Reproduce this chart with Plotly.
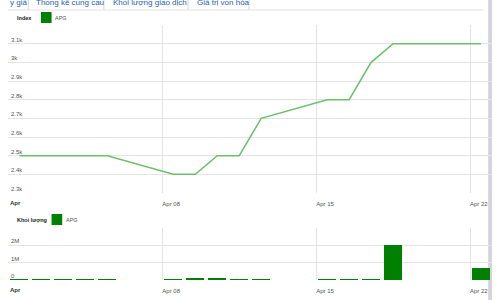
import plotly.graph_objects as go

dates = ["2013-04-01", "2013-04-02", "2013-04-03", "2013-04-04", "2013-04-05",
         "2013-04-08", "2013-04-09", "2013-04-10", "2013-04-11", "2013-04-12",
         "2013-04-15", "2013-04-16", "2013-04-17", "2013-04-18", "2013-04-22"]
index_values = [2500, 2500, 2500, 2500, 2500,
                2400, 2400, 2500, 2500, 2700,
                2800, 2800, 3000, 3100, 3100]
volume_values = [20000, 20000, 20000, 20000, 20000,
                 20000, 60000, 60000, 20000, 20000,
                 20000, 20000, 20000, 2000000, 720000]
index_ticks = [2300, 2400, 2500, 2600, 2700, 2800, 2900, 3000, 3100, 3200]
index_tick_text = ["2.3k", "2.4k", "2.5k", "2.6k", "2.7k", "2.8k", "2.9k", "3k", "3.1k", ""]
volume_ticks = [0, 1000000, 2000000, 3000000]
volume_tick_text = ["0", "1M", "2M", ""]
x_ticks = ["2013-04-01", "2013-04-08", "2013-04-15", "2013-04-22"]
x_tick_text = ["", "Apr 08", "Apr 15", "Apr 22"]
month_label = "<b>Apr</b>"
tabs = ["y giá", "Thống kê cung cầu", "Khối lượng giao dịch", "Giá trị vốn hóa"]

xs = [d + " 12:00" for d in dates]

W, H = 500, 300
def py(px):
    return 1 - px / H

def px_x(x):
    return x / W

fig = go.Figure()
fig.add_trace(go.Scatter(x=xs, y=index_values, mode="lines",
                         line=dict(color="rgb(108,192,108)", width=1.5),
                         xaxis="x", yaxis="y", showlegend=False, hoverinfo="skip"))
fig.add_trace(go.Bar(x=xs, y=volume_values, marker=dict(color="#008000", line=dict(width=0)),
                     width=0.82 * 86400000, xaxis="x2", yaxis="y2", showlegend=False,
                     hoverinfo="skip"))

font_tick = dict(family="Liberation Sans", size=6, color="#555555")
xrange = ["2013-03-31 23:30", "2013-04-23 00:00"]
xcommon = dict(range=xrange, type="date", tickvals=x_ticks, ticktext=x_tick_text,
               showgrid=True, gridcolor="#e4e4e4", gridwidth=1, zeroline=False,
               showline=False, ticks="", tickfont=font_tick,
               ticklabelposition="outside right", ticklabeloverflow="allow",
               ticklabelstandoff=6, fixedrange=True)

fig.update_layout(
    width=W, height=H,
    margin=dict(l=8, r=8, t=0, b=0),
    paper_bgcolor="white", plot_bgcolor="white",
    bargap=0,
    xaxis=dict(domain=[0, 1], anchor="y", **xcommon),
    xaxis2=dict(domain=[0, 1], anchor="y2", **xcommon),
    yaxis=dict(domain=[py(193), py(25)], range=[2300, 3200], tickvals=index_ticks,
               ticktext=index_tick_text, showgrid=True, gridcolor="#e4e4e4",
               zeroline=False, showline=False, ticks="", tickfont=font_tick,
               ticklabelposition="inside top", anchor="x"),
    yaxis2=dict(domain=[py(280), py(228)], range=[0, 3000000], tickvals=volume_ticks,
                ticktext=volume_tick_text, showgrid=True, gridcolor="#e4e4e4",
                zeroline=False, showline=False, ticks="", tickfont=font_tick,
                ticklabelposition="inside top", anchor="x2"),
)

shapes = []
annotations = []

# Month labels at the left edge of each x axis
for xr, ypx in [("x", 203), ("x2", 290)]:
    annotations.append(dict(x=x_ticks[0], y=py(ypx), xref=xr, yref="paper", xanchor="left",
                            yanchor="middle", text=month_label, showarrow=False,
                            font=dict(family="Liberation Sans", size=6, color="#333333")))

legend_font_b = dict(family="Liberation Sans", size=5.5, color="#222222")
legend_font = dict(family="Liberation Sans", size=5.5, color="#555555")

# Legend for index chart
annotations.append(dict(x=px_x(7), y=py(18), xref="paper", yref="paper", xanchor="left",
                        yanchor="middle", text="<b>Index</b>", showarrow=False,
                        font=legend_font_b))
shapes.append(dict(type="rect", xref="paper", yref="paper", x0=px_x(34), x1=px_x(45),
                   y0=py(23), y1=py(12), fillcolor="#008000", line=dict(width=0)))
annotations.append(dict(x=px_x(47), y=py(18), xref="paper", yref="paper", xanchor="left",
                        yanchor="middle", text="APG", showarrow=False,
                        font=legend_font))
# Legend for volume chart
annotations.append(dict(x=px_x(7), y=py(220), xref="paper", yref="paper", xanchor="left",
                        yanchor="middle", text="<b>Khối lượng</b>", showarrow=False,
                        font=legend_font_b))
shapes.append(dict(type="rect", xref="paper", yref="paper", x0=px_x(45), x1=px_x(56),
                   y0=py(225), y1=py(214), fillcolor="#008000", line=dict(width=0)))
annotations.append(dict(x=px_x(58), y=py(220), xref="paper", yref="paper", xanchor="left",
                        yanchor="middle", text="APG", showarrow=False,
                        font=legend_font))

# Tabs at top (cut off by the window edge)
tab_x = [0, 27, 106, 193]
for t, x in zip(tabs, tab_x):
    annotations.append(dict(x=px_x(x), y=py(2), xref="paper", yref="paper", xanchor="left",
                            yanchor="middle", text=t, showarrow=False,
                            font=dict(family="Liberation Sans", size=8, color="#2a62b0")))
for sx in [21, 99, 186, 249]:
    shapes.append(dict(type="line", xref="paper", yref="paper", x0=px_x(sx), x1=px_x(sx),
                       y0=py(0), y1=py(10), line=dict(color="#cfd6e0", width=1)))
shapes.append(dict(type="line", xref="paper", yref="paper", x0=0, x1=px_x(491),
                   y0=py(10), y1=py(10), line=dict(color="#e4e4e4", width=1)))
# Right edge gray bar
shapes.append(dict(type="rect", xref="paper", yref="paper", x0=px_x(496), x1=1,
                   y0=0, y1=1, fillcolor="#d4d4de", line=dict(width=0), layer="below"))

fig.update_layout(shapes=shapes, annotations=annotations)
fig.write_html("out.html")
